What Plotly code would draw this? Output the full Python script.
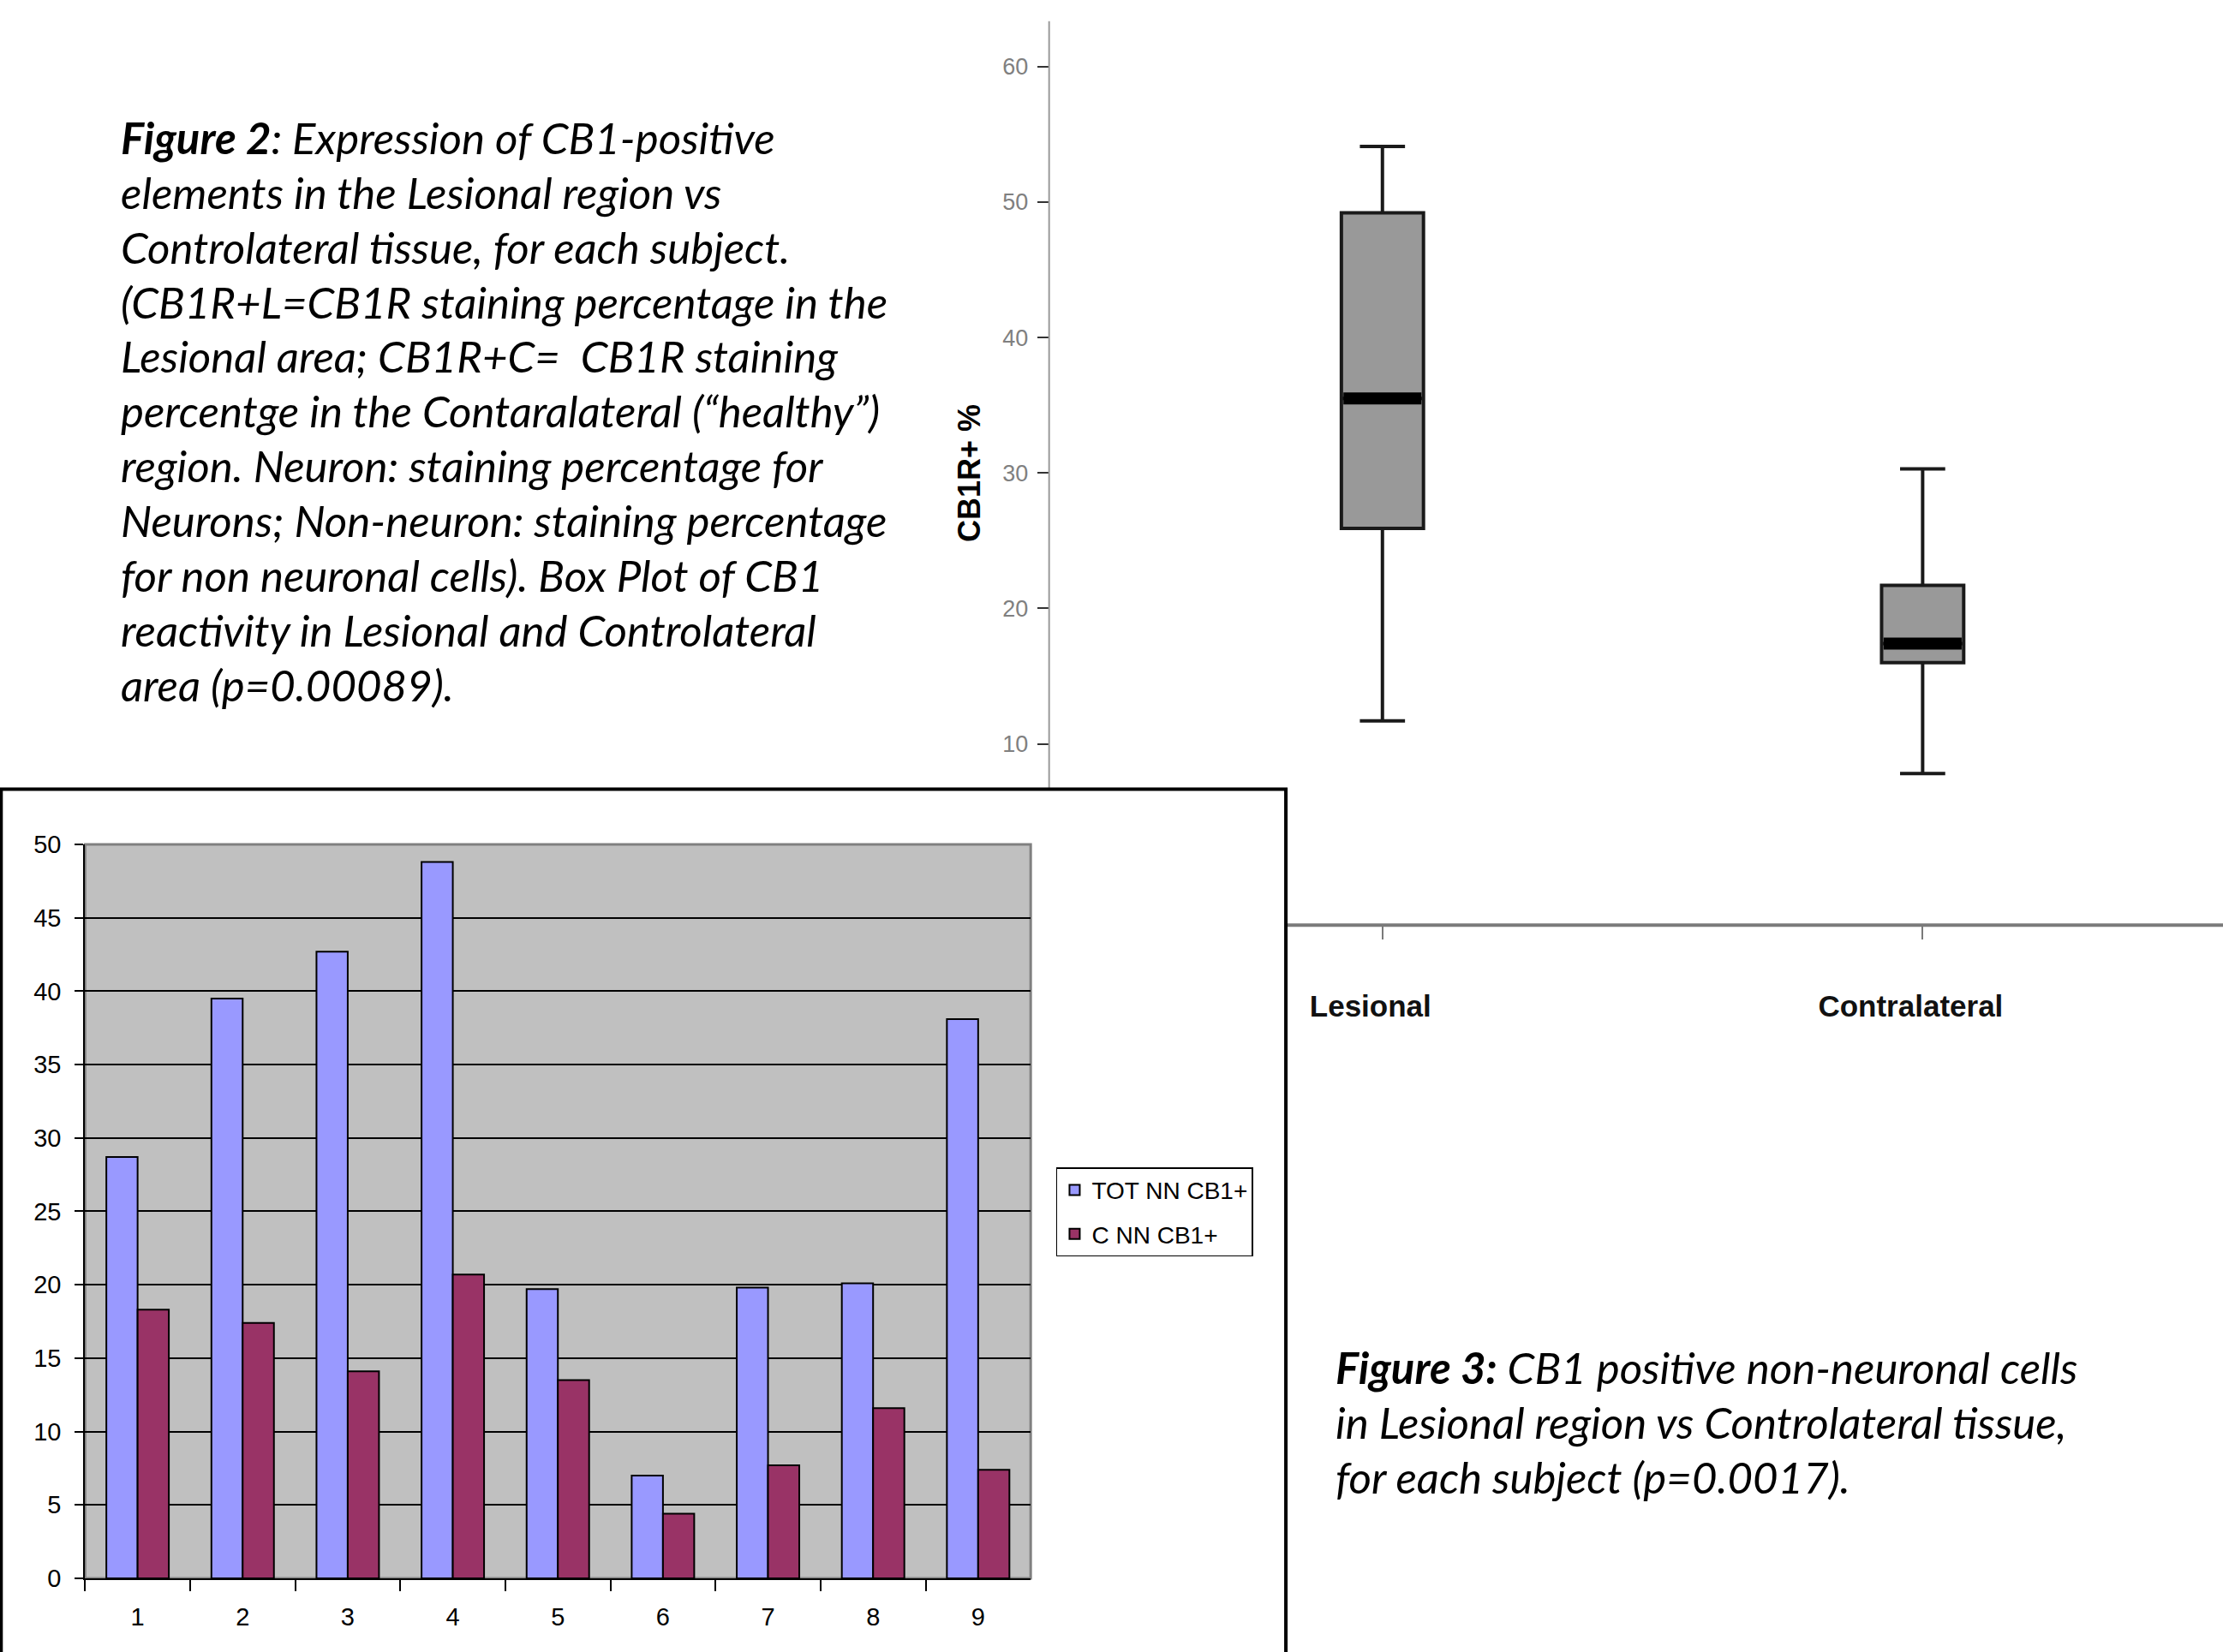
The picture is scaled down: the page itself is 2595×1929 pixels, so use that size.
import plotly.graph_objects as go

# ---------------- data ----------------
subjects = ["1", "2", "3", "4", "5", "6", "7", "8", "9"]
tot_nn_cb1 = [28.7, 39.5, 42.7, 48.8, 19.7, 7.0, 19.8, 20.1, 38.1]
c_nn_cb1 = [18.3, 17.4, 14.1, 20.7, 13.5, 4.4, 7.7, 11.6, 7.4]

box_groups = ["Lesional", "Contralateral"]
box_pos = [0, 1]
box_lowerfence = [11.7, 7.8]
box_q1 = [25.9, 16.0]
box_median = [35.5, 17.4]
box_q3 = [49.2, 21.7]
box_upperfence = [54.1, 30.3]
box_yticks = [10, 20, 30, 40, 50, 60]

caption2 = [
    "<b>Figure 2</b>: Expression of CB1-positive",
    "elements in the Lesional region vs",
    "Controlateral tissue, for each subject.",
    "(CB1R+L=CB1R staining percentage in the",
    "Lesional area; CB1R+C=\u00a0 CB1R staining",
    "percentge in the Contaralateral (\u201chealthy\u201d)",
    "region. Neuron: staining percentage for",
    "Neurons; Non-neuron: staining percentage",
    "for non neuronal cells). Box Plot of CB1",
    "reactivity in Lesional and Controlateral",
    "area (p=0.00089).",
]
caption3 = [
    "<b>Figure 3:</b> CB1 positive non-neuronal cells",
    "in Lesional region vs Controlateral tissue,",
    "for each subject (p=0.0017).",
]

W, H = 2595, 1929

def px(x):  # reference (1568-wide) x -> paper
    return x / 1568.0

def py(y):  # reference (1166-high) y -> paper
    return 1 - y / 1166.0

fig = go.Figure()

# ---------------- box plot (Figure 2) ----------------
BOX_W = 0.152
for i, g in enumerate(box_groups):
    fig.add_trace(go.Box(
        x=[box_pos[i]], q1=[box_q1[i]], median=[box_median[i]], q3=[box_q3[i]],
        lowerfence=[box_lowerfence[i]], upperfence=[box_upperfence[i]],
        width=BOX_W, whiskerwidth=0.55, fillcolor="#999999",
        line=dict(color="#1a1a1a", width=4), boxpoints=False,
        showlegend=False, xaxis="x", yaxis="y", hoverinfo="skip",
    ))
    fig.add_trace(go.Scatter(
        x=[box_pos[i] - BOX_W / 2 * 0.95, box_pos[i] + BOX_W / 2 * 0.95],
        y=[box_median[i], box_median[i]], mode="lines",
        line=dict(color="black", width=14), showlegend=False,
        xaxis="x", yaxis="y", hoverinfo="skip",
    ))

# ---------------- bar chart (Figure 3) ----------------
fig.add_trace(go.Bar(
    x=subjects, y=tot_nn_cb1, name="TOT NN CB1+", legendgroup="a",
    marker=dict(color="#9999FF", line=dict(color="black", width=2)),
    xaxis="x2", yaxis="y2",
))
fig.add_trace(go.Bar(
    x=subjects, y=c_nn_cb1, name="C NN CB1+", legendgroup="b",
    marker=dict(color="#993366", line=dict(color="black", width=2)),
    xaxis="x2", yaxis="y2",
))

shapes = []
shapes.append(dict(type="rect", xref="x2 domain", yref="y2 domain", x0=0, x1=1, y0=0, y1=1,
                   fillcolor="#C0C0C0", line=dict(color="#808080", width=3), layer="below"))
shapes.append(dict(type="line", xref="paper", yref="paper", x0=px(740), x1=px(740),
                   y0=py(557), y1=py(15), line=dict(color="#9a9a9a", width=2)))
shapes.append(dict(type="line", xref="paper", yref="paper", x0=px(907), x1=1.0,
                   y0=py(653), y1=py(653), line=dict(color="#7a7a7a", width=4)))
shapes.append(dict(type="rect", xref="paper", yref="paper", x0=0.0005, x1=px(907),
                   y0=-0.01, y1=py(557), line=dict(color="black", width=4),
                   fillcolor="rgba(0,0,0,0)", layer="above"))

annotations = []
cap_font = dict(family="Lato, Open Sans, sans-serif", size=51, color="black", style="italic")
for k, line in enumerate(caption2):
    annotations.append(dict(text=line, xref="paper", yref="paper", x=px(84), y=py(97 + k * 38.6),
                            xanchor="left", yanchor="middle", showarrow=False, font=cap_font))
for k, line in enumerate(caption3):
    annotations.append(dict(text=line, xref="paper", yref="paper", x=px(941), y=py(965 + k * 38.6),
                            xanchor="left", yanchor="middle", showarrow=False, font=cap_font))

fig.update_layout(
    width=W, height=H,
    margin=dict(l=0, r=0, t=0, b=0, pad=0, autoexpand=False),
    paper_bgcolor="white", plot_bgcolor="rgba(0,0,0,0)",
    showlegend=True,
    barmode="group", bargap=0.405, bargroupgap=0,
    xaxis=dict(domain=[px(740), 1.0], anchor="y", range=[-0.617, 1.556],
               tickvals=box_pos, ticktext=box_groups, showgrid=False, zeroline=False,
               showline=False, ticks="outside", ticklen=16, tickwidth=2, tickcolor="#7a7a7a",
               ticklabelstandoff=48, ticklabelshift=-14, automargin=False,
               tickfont=dict(family="Liberation Sans, Arial", size=35, color="#111", weight="bold")),
    yaxis=dict(domain=[py(653), py(15)], anchor="x", range=[-3.39, 63.35],
               tickvals=box_yticks, showgrid=False, zeroline=False, showline=False,
               ticks="outside", ticklen=13, tickwidth=2, tickcolor="#333",
               ticklabelstandoff=5, automargin=False,
               tickfont=dict(family="Liberation Sans", size=27, color="#808080"),
               title=dict(text="<b>CB1R+ %</b>", standoff=14,
                          font=dict(family="Liberation Sans, Arial", size=36, color="black"))),
    xaxis2=dict(domain=[px(60), px(727)], anchor="y2", type="category", automargin=False,
                showgrid=False, zeroline=False, showline=True, linecolor="black", linewidth=2,
                ticks="outside", tickson="boundaries", ticklen=13, tickwidth=2, tickcolor="black",
                ticklabelstandoff=18,
                tickfont=dict(family="Liberation Sans, Arial", size=29, color="black")),
    yaxis2=dict(domain=[py(1114), py(596)], anchor="x2", range=[0, 50], dtick=5, automargin=False,
                showgrid=True, gridcolor="black", gridwidth=1.5, zeroline=False,
                showline=True, linecolor="black", linewidth=2,
                ticks="outside", ticklen=10, tickwidth=2, tickcolor="black",
                ticklabelstandoff=10,
                tickfont=dict(family="Liberation Sans, Arial", size=29, color="black")),
    legend=dict(x=px(745), y=py(824), xanchor="left", yanchor="top",
                bgcolor="white", bordercolor="black", borderwidth=1.5,
                font=dict(family="Liberation Sans, Arial", size=28, color="black"),
                itemwidth=30, tracegroupgap=12),
    shapes=shapes,
    annotations=annotations,
)

fig.write_html("out.html", config={"displayModeBar": False},
               post_script="document.body.style.margin='0';document.documentElement.style.overflow='hidden';document.body.style.overflow='hidden';")
